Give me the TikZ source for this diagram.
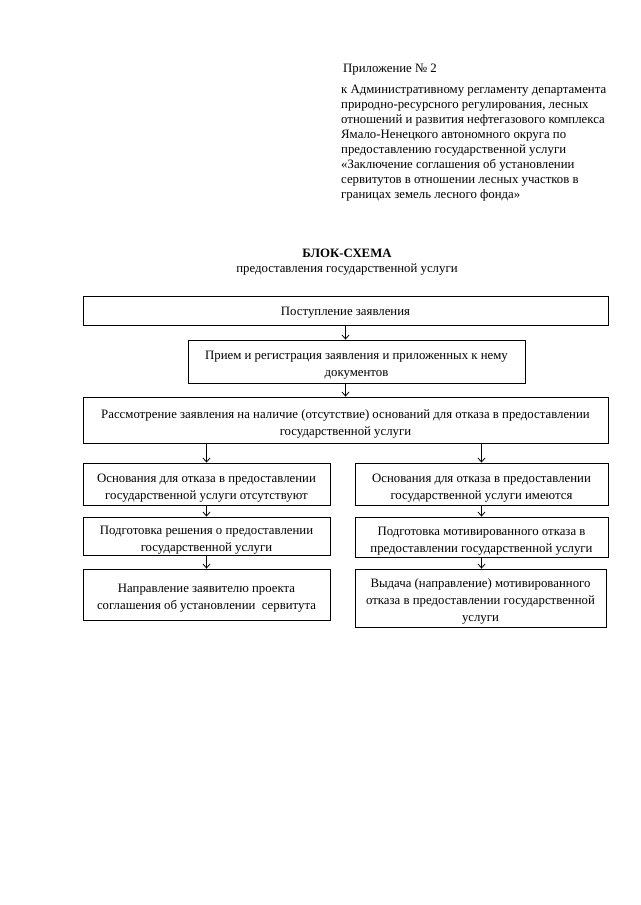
\documentclass[tikz,border=0pt]{standalone}
\usepackage{fontspec}
\setmainfont{Liberation Serif}
\usetikzlibrary{arrows.meta}
\newcommand{\bxt}[2][-3.5pt]{\raisebox{#1}[\height][\depth]{\begin{tabular}{@{}c@{}}#2\end{tabular}}}
\begin{document}
\begin{tikzpicture}[x=1pt,y=-1pt,
  txt/.style={font=\fontsize{12.8}{15}\selectfont, inner sep=0pt},
  boxtxt/.style={font=\fontsize{12.8}{17}\selectfont},
  stepbox/.style={draw, line width=0.8pt, boxtxt, align=center, inner sep=0pt},
  arr/.style={line width=0.8pt, -{Straight Barb[length=4pt,width=7pt,line width=0.8pt]}}
]
\useasboundingbox[fill=white] (0,0) rectangle (640,905);

% header
\node[txt, anchor=base west] (app) at (343,72) {Приложение № 2};
\node[txt, anchor=north west, align=left] (apptext) at (341,84.5)
 {к Административному регламенту департамента\\
  природно-ресурсного регулирования, лесных\\
  отношений и развития нефтегазового комплекса\\
  Ямало-Ненецкого автономного округа по\\
  предоставлению государственной услуги\\
  «Заключение соглашения об установлении\\
  сервитутов в отношении лесных участков в\\
  границах земель лесного фонда»};

\node[txt, anchor=base, font=\fontsize{12.8}{15}\selectfont\bfseries] (title) at (347,257.5) {БЛОК-СХЕМА};
\node[txt, anchor=base] (subtitle) at (347,272.5) {предоставления государственной услуги};

% boxes
\node[stepbox, minimum width=525pt, minimum height=29pt] (b1) at (345.5,311) {\bxt[-1.5pt]{Поступление заявления}};
\node[stepbox, minimum width=337pt, minimum height=43pt] (b2) at (356.5,361.5)
 {\bxt{Прием и регистрация заявления и приложенных к нему\\документов}};
\node[stepbox, minimum width=525pt, minimum height=46pt] (b3) at (345.5,420)
 {\bxt{Рассмотрение заявления на наличие (отсутствие) оснований для отказа в предоставлении\\государственной услуги}};

\node[stepbox, minimum width=247pt, minimum height=42pt] (l1) at (206.5,484)
 {\bxt{Основания для отказа в предоставлении\\государственной услуги отсутствуют}};
\node[stepbox, minimum width=253pt, minimum height=42pt] (r1) at (481.5,484)
 {\bxt{Основания для отказа в предоставлении\\государственной услуги имеются}};

\node[stepbox, minimum width=247pt, minimum height=38pt] (l2) at (206.5,536)
 {\bxt{Подготовка решения о предоставлении\\государственной услуги}};
\node[stepbox, minimum width=253pt, minimum height=40pt] (r2) at (481.5,537)
 {\bxt{Подготовка мотивированного отказа в\\предоставлении государственной услуги}};

\node[stepbox, minimum width=247pt, minimum height=51pt] (l3) at (206.5,594.5)
 {\bxt{Направление заявителю проекта\\соглашения об установлении\ \ сервитута}};
\node[stepbox, minimum width=251pt, minimum height=58pt] (r3) at (480.5,598)
 {\bxt{Выдача (направление) мотивированного\\отказа в предоставлении государственной\\услуги}};

% connectors
\draw[arr] (b1.south) -- (b1.south |- b2.north);
\draw[arr] (b1.south |- b2.south) -- (b3.north);
\draw[arr] (l1.north |- b3.south) -- (l1.north);
\draw[arr] (r1.north |- b3.south) -- (r1.north);
\draw[arr] (l1.south) -- (l2.north);
\draw[arr] (r1.south) -- (r2.north);
\draw[arr] (l2.south) -- (l3.north);
\draw[arr] (r2.south) -- (r2.south |- r3.north);
\end{tikzpicture}
\end{document}
